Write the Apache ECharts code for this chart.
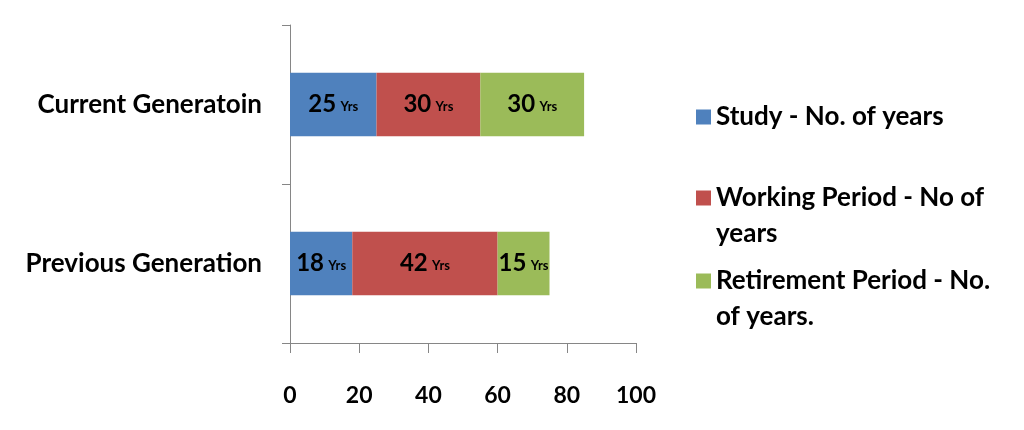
<!DOCTYPE html>
<html>
<head>
<meta charset="utf-8">
<script src="https://cdn.jsdelivr.net/npm/echarts@6/dist/echarts.min.js"></script>
<style>
  html, body { margin: 0; padding: 0; background: #fff; }
  #main { width: 1024px; height: 430px; }
</style>
</head>
<body>
<div id="main"></div>
<script>
// data
const categories = ['Previous Generation', 'Current Generatoin'];
const seriesNames = ['Study - No. of years', 'Working Period - No of years', 'Retirement Period - No. of years.'];
// wrapped legend text; the leading blank line keeps the swatch beside the first line
const legendTexts = ['Study - No. of years', '\nWorking Period - No of\nyears', '\nRetirement Period - No.\nof years.'];
const studyYears = [18, 25];
const workingYears = [42, 30];
const retirementYears = [15, 30];
const xTicks = { min: 0, max: 100, interval: 20 };

const colors = ['#4F81BD', '#C0504D', '#9BBB59'];
const FONT = 'Lato';

const chart = echarts.init(document.getElementById('main'));

// bar labels: big number + small "Yrs"
const barLabel = {
  show: true,
  position: 'inside',
  formatter: '{n|{c}} {u|Yrs}',
  rich: {
    n: { fontFamily: FONT, fontSize: 24, fontWeight: 'bold', color: '#000' },
    u: { fontFamily: FONT, fontSize: 13, fontWeight: 'bold', color: '#000', padding: [4, 0, 0, 1] }
  }
};

function makeSeries(i, values) {
  return {
    name: seriesNames[i],
    type: 'bar',
    stack: 'years',
    barWidth: '40%',
    data: values,
    itemStyle: { color: colors[i] },
    label: barLabel,
    emphasis: { disabled: true }
  };
}

// one legend per entry so the wrapped entries sit where they do in the picture
const legendTops = [99, 144, 227];
const legends = seriesNames.map(function (name, i) {
  return {
    orient: 'vertical',
    left: 696,
    top: legendTops[i],
    padding: 0,
    itemWidth: 15,
    itemHeight: 15,
    icon: 'rect',
    selectedMode: false,
    data: [name],
    formatter: function () { return legendTexts[i]; },
    textStyle: {
      fontFamily: FONT,
      fontSize: 26,
      fontWeight: 'bold',
      color: '#000',
      lineHeight: 36
    }
  };
});

chart.setOption({
  animation: false,
  color: colors,
  legend: legends,
  grid: { left: 290, right: 388, top: 25, bottom: 87, containLabel: false },
  xAxis: {
    type: 'value',
    min: xTicks.min,
    max: xTicks.max,
    interval: xTicks.interval,
    splitLine: { show: false },
    axisLine: { show: true, lineStyle: { color: '#868686', width: 1 } },
    axisTick: { show: true, length: 10, lineStyle: { color: '#868686' } },
    axisLabel: { margin: 41, fontFamily: FONT, fontSize: 23, fontWeight: 'bold', color: '#000' }
  },
  yAxis: {
    type: 'category',
    data: categories,
    axisLine: { show: true, lineStyle: { color: '#868686', width: 1 } },
    axisTick: { show: true, length: 8, lineStyle: { color: '#868686' } },
    axisLabel: { margin: 28, fontFamily: FONT, fontSize: 26, fontWeight: 'bold', color: '#000' }
  },
  series: [
    makeSeries(0, studyYears),
    makeSeries(1, workingYears),
    makeSeries(2, retirementYears)
  ]
});
</script>
</body>
</html>
